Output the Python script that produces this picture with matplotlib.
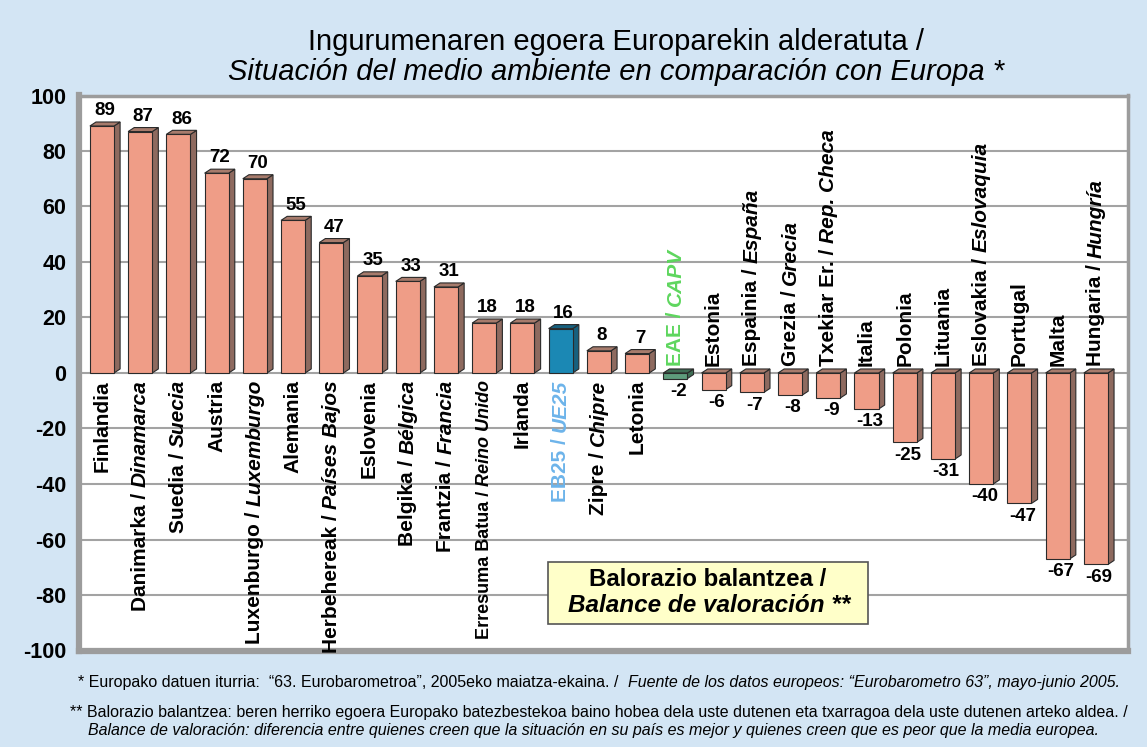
import matplotlib
matplotlib.use("Agg")
import matplotlib.pyplot as plt
from matplotlib.patches import Polygon, Rectangle
from matplotlib import transforms
from matplotlib import font_manager

# ---------------- data ----------------
labels_eu = ["Finlandia", "Danimarka /", "Suedia /", "Austria", "Luxenburgo /", "Alemania",
             "Herbehereak /", "Eslovenia", "Belgika /", "Frantzia /", "Erresuma Batua /",
             "Irlanda", "EB25 /", "Zipre /", "Letonia", "EAE /", "Estonia", "Espainia /",
             "Grezia /", "Txekiar Er. /", "Italia", "Polonia", "Lituania", "Eslovakia /",
             "Portugal", "Malta", "Hungaria /"]
labels_es = ["", "Dinamarca", "Suecia", "", "Luxemburgo", "", "Países Bajos", "", "Bélgica",
             "Francia", "Reino Unido", "", "UE25", "Chipre", "", "CAPV", "", "España",
             "Grecia", "Rep. Checa", "", "", "", "Eslovaquia", "", "", "Hungría"]
values = [89, 87, 86, 72, 70, 55, 47, 35, 33, 31, 18, 18, 16, 8, 7, -2, -6, -7, -8, -9,
          -13, -25, -31, -40, -47, -67, -69]
yticks = [100, 80, 60, 40, 20, 0, -20, -40, -60, -80, -100]

title1 = "Ingurumenaren egoera Europarekin alderatuta /"
title2 = "Situación del medio ambiente en comparación con Europa *"
legend1 = "Balorazio balantzea /"
legend2 = "Balance de valoración **"
note1a = "* Europako datuen iturria:  “63. Eurobarometroa”, 2005eko maiatza-ekaina. /  "
note1b = "Fuente de los datos europeos: “Eurobarometro 63”, mayo-junio 2005."
note2a = "** Balorazio balantzea: beren herriko egoera Europako batezbestekoa baino hobea dela uste dutenen eta txarragoa dela uste dutenen arteko aldea. /"
note2b = "Balance de valoración: diferencia entre quienes creen que la situación en su país es mejor y quienes creen que es peor que la media europea."

# ---------------- style ----------------
FONT = "Liberation Sans"
names = {f.name for f in font_manager.fontManager.ttflist}
NARROW = "Liberation Sans Narrow" if "Liberation Sans Narrow" in names else FONT
plt.rcParams['font.family'] = [FONT, 'DejaVu Sans']

BG = "#D3E5F4"
SALMON = "#EF9D87"
SIDE = "#8E6A5F"
TOP = "#A77B6C"
colors = [SALMON] * len(values)
colors[12] = "#1B88B4"
colors[15] = "#5E9C7C"
side_colors = [SIDE] * len(values)
side_colors[12] = "#17607E"
side_colors[15] = "#3F6E55"
label_colors = ["black"] * len(values)
label_colors[12] = "#6DB4EA"
label_colors[15] = "#5ED65E"
label_sizes = [15] * len(values)
label_sizes[10] = 13

W, H = 1147, 747
fig = plt.figure(figsize=(W / 100, H / 100), dpi=100, facecolor=BG)
ax = fig.add_axes([79 / W, 1 - 650.5 / H, (1128 - 79) / W, (650.5 - 95.5) / H])
ax.set_facecolor("white")
ax.set_xlim(-0.6, 26.84)
ax.set_ylim(-100, 100)
ax.set_yticks(yticks)
ax.set_yticklabels([str(v) for v in yticks], fontsize=15.5, fontweight="bold")
ax.tick_params(axis='y', length=0, pad=9)
ax.set_xticks([])
for y in yticks:
    ax.axhline(y, color="#A3A3A3", lw=1.5, zorder=0)
for s in ax.spines.values():
    s.set_color("#9C9C9C")
    s.set_linewidth(2.5)
ax.spines['left'].set_linewidth(4.5)
ax.spines['bottom'].set_linewidth(4.5)

bw = 0.63
dx, dy = 0.16, 1.45
xs = list(range(len(values)))
for x, v, c, sc in zip(xs, values, colors, side_colors):
    x0, x1 = x - bw / 2, x + bw / 2
    top = max(v, 0)
    bot = min(v, 0)
    ax.add_patch(Polygon([(x1, bot), (x1 + dx, bot + dy), (x1 + dx, top + dy), (x1, top)],
                         closed=True, facecolor=sc, edgecolor="#2a2a2a", lw=0.8, zorder=2))
    ax.add_patch(Polygon([(x0, top), (x0 + dx, top + dy), (x1 + dx, top + dy), (x1, top)],
                         closed=True, facecolor=TOP if c == SALMON else sc,
                         edgecolor="#2a2a2a", lw=0.8, zorder=2))
    ax.add_patch(Rectangle((x0, bot), bw, top - bot, facecolor=c, edgecolor="#2a2a2a",
                           lw=0.8, zorder=3))
    if v >= 0:
        ax.text(x + dx / 2, v + dy + 1.0, str(v), ha="center", va="bottom",
                fontsize=13.5, fontweight="bold", zorder=5)
    else:
        ax.text(x + dx / 2, v - 1.5, str(v), ha="center", va="top",
                fontsize=13.5, fontweight="bold", zorder=5)

# category labels (mixed upright / italic, rotated)
renderer = fig.canvas.get_renderer()
for x, v, eu, es, col, fs in zip(xs, values, labels_eu, labels_es, label_colors, label_sizes):
    space = fs * 0.278 * 100 / 72
    if v >= 0:
        y0 = -2.5
        ha = "right"
        first, second = (es, eu) if es else (eu, "")
        styles = ("italic", "normal") if es else ("normal", "")
        sign = -1
    else:
        y0 = 2.5
        ha = "left"
        first, second = eu, es
        styles = ("normal", "italic")
        sign = 1
    t = ax.text(x, y0, first, rotation=90, rotation_mode="anchor", ha=ha, va="center",
                fontsize=fs, fontweight="bold", style=styles[0], color=col, zorder=5)
    if second:
        h = t.get_window_extent(renderer).height + space
        tr = transforms.offset_copy(ax.transData, fig=fig, y=sign * h, units="dots")
        ax.text(x, y0, second, rotation=90, rotation_mode="anchor", ha=ha, va="center",
                fontsize=fs, fontweight="bold", style=styles[1], color=col, zorder=5,
                transform=tr)

# title
fig.text(616 / W, 1 - 42 / H, title1, ha="center", va="center", fontsize=21)
fig.text(616 / W, 1 - 72 / H, title2, ha="center", va="center", fontsize=21, style="italic")

# legend box
fig.patches.append(Rectangle((548 / W, 1 - 624 / H), 320 / W, 62 / H, transform=fig.transFigure,
                             facecolor="#FFFFC9", edgecolor="#555555", lw=1.2, zorder=5))
fig.text(708 / W, 1 - 580 / H, legend1, ha="center", va="center", fontsize=17.3,
         fontweight="bold", zorder=6)
fig.text(709 / W, 1 - 606 / H, legend2, ha="center", va="center", fontsize=17.5,
         fontweight="bold", style="italic", zorder=6)

# notes
nfs = 10.5 if NARROW != FONT else 11.5
ta = fig.text(78 / W, 1 - 682 / H, note1a, ha="left", va="center", fontsize=nfs, family=NARROW)
w = ta.get_window_extent(renderer).width
fig.text((78 + w) / W, 1 - 682 / H, note1b, ha="left", va="center", fontsize=nfs,
         family=NARROW, style="italic")
fig.text(70 / W, 1 - 712 / H, note2a, ha="left", va="center", fontsize=nfs, family=NARROW)
fig.text(88 / W, 1 - 730 / H, note2b, ha="left", va="center", fontsize=nfs, family=NARROW,
         style="italic")

fig.savefig("out.png", dpi=100, facecolor=BG)
